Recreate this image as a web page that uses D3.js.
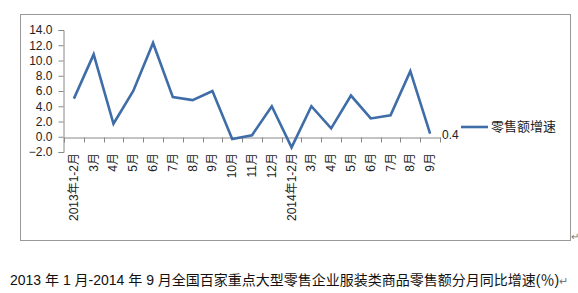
<!DOCTYPE html>
<html>
<head>
<meta charset="utf-8">
<script src="https://cdn.jsdelivr.net/npm/d3@7"></script>
<style>
  body { margin: 0; background: #fff; }
  text { font-family: "Liberation Sans", "Noto Sans CJK SC", sans-serif; }
</style>
</head>
<body>
<div id="chart"></div>
<script>
var months = ["2013年1-2月", "3月", "4月", "5月", "6月", "7月", "8月", "9月", "10月", "11月", "12月",
    "2014年1-2月", "3月", "4月", "5月", "6月", "7月", "8月", "9月"]
var growth = [5.0, 10.8, 1.7, 6.0, 12.3, 5.2, 4.8, 6.0, -0.3, 0.2, 4.0,
    -1.4, 4.0, 1.1, 5.4, 2.4, 2.8, 8.6, 0.4]
var yTicks = [-2, 0, 2, 4, 6, 8, 10, 12, 14]
var seriesName = "零售额增速"
var caption = "2013 年 1 月-2014 年 9 月全国百家重点大型零售企业服装类商品零售额分月同比增速(％)"

var W = 578, H = 293
var svg = d3.select("#chart").append("svg")
    .attr("width", W)
    .attr("height", H)

// frame round the chart
svg.append("rect")
    .attr("x", 20.5).attr("y", 14.5)
    .attr("width", 550).attr("height", 226)
    .attr("fill", "none")
    .attr("stroke", "#999")
    .attr("stroke-width", 1)

var x = d3.scaleBand()
    .domain(months.map(function (d, i) { return i }))
    .range([64, 440])

var y = d3.scaleLinear()
    .domain([-2, 14])
    .range([152, 30])

// y axis
var yAxis = d3.axisLeft(y)
    .tickValues(yTicks)
    .tickFormat(d3.format(".1f"))
    .tickSize(5)
    .tickSizeOuter(5)
var gy = svg.append("g")
    .attr("transform", "translate(63.5,0)")
    .call(yAxis)
gy.select(".domain").attr("stroke", "#888")
gy.selectAll(".tick line").attr("stroke", "#888")
gy.selectAll(".tick text")
    .attr("x", -11)
    .attr("fill", "#222")
    .style("font-size", "12px")

// x axis on the zero line
var xAxis = d3.axisBottom(x)
    .tickFormat("")
    .tickSize(0)
    .tickSizeOuter(0)
var gx = svg.append("g")
    .attr("transform", "translate(0," + (Math.round(y(0)) + 0.5) + ")")
    .call(xAxis)
gx.select(".domain").attr("stroke", "#888")
gx.selectAll(".tick").remove()

// tick marks between categories
var edges = d3.range(months.length + 1).map(function (i) { return x.range()[0] + i * x.step() })
gx.selectAll("line.sep")
    .data(edges)
    .enter()
    .append("line")
    .attr("class", "sep")
    .attr("x1", function (d) { return Math.round(d) + 0.5 })
    .attr("x2", function (d) { return Math.round(d) + 0.5 })
    .attr("y1", 0)
    .attr("y2", 5)
    .attr("stroke", "#888")

// category labels, rotated, hanging below the plot
svg.selectAll("text.cat")
    .data(months)
    .enter()
    .append("text")
    .attr("class", "cat")
    .attr("transform", function (d, i) {
        return "translate(" + (x(i) + x.bandwidth() / 2 + 4) + ",153) rotate(-90)"
    })
    .attr("text-anchor", "end")
    .attr("fill", "#222")
    .style("font-size", "12px")
    .text(function (d) { return d })

// the series line
var line = d3.line()
    .x(function (d, i) { return x(i) + x.bandwidth() / 2 })
    .y(function (d) { return y(d) })

svg.append("path")
    .datum(growth)
    .attr("d", line)
    .attr("fill", "none")
    .attr("stroke", "#3e6da8")
    .attr("stroke-width", 2.6)
    .attr("stroke-linejoin", "miter")

// label on the last point
var last = growth.length - 1
svg.append("text")
    .attr("x", x(last) + x.bandwidth() / 2 + 12)
    .attr("y", y(growth[last]) + 5)
    .attr("fill", "#222")
    .style("font-size", "12px")
    .text(growth[last].toFixed(1))

// legend
svg.append("line")
    .attr("x1", 461).attr("x2", 488)
    .attr("y1", 127).attr("y2", 127)
    .attr("stroke", "#3e6da8")
    .attr("stroke-width", 2.6)
svg.append("text")
    .attr("x", 491)
    .attr("y", 131)
    .attr("fill", "#222")
    .style("font-size", "13px")
    .text(seriesName)

// return marks and caption below
svg.append("text")
    .attr("x", 571).attr("y", 240)
    .attr("fill", "#777")
    .style("font-size", "10px")
    .text("↵")

svg.append("text")
    .attr("x", 10)
    .attr("y", 285)
    .attr("fill", "#111")
    .style("font-size", "14px")
    .text(caption)
    .append("tspan")
    .attr("fill", "#777")
    .style("font-size", "11px")
    .text("↵")
</script>
</body>
</html>
